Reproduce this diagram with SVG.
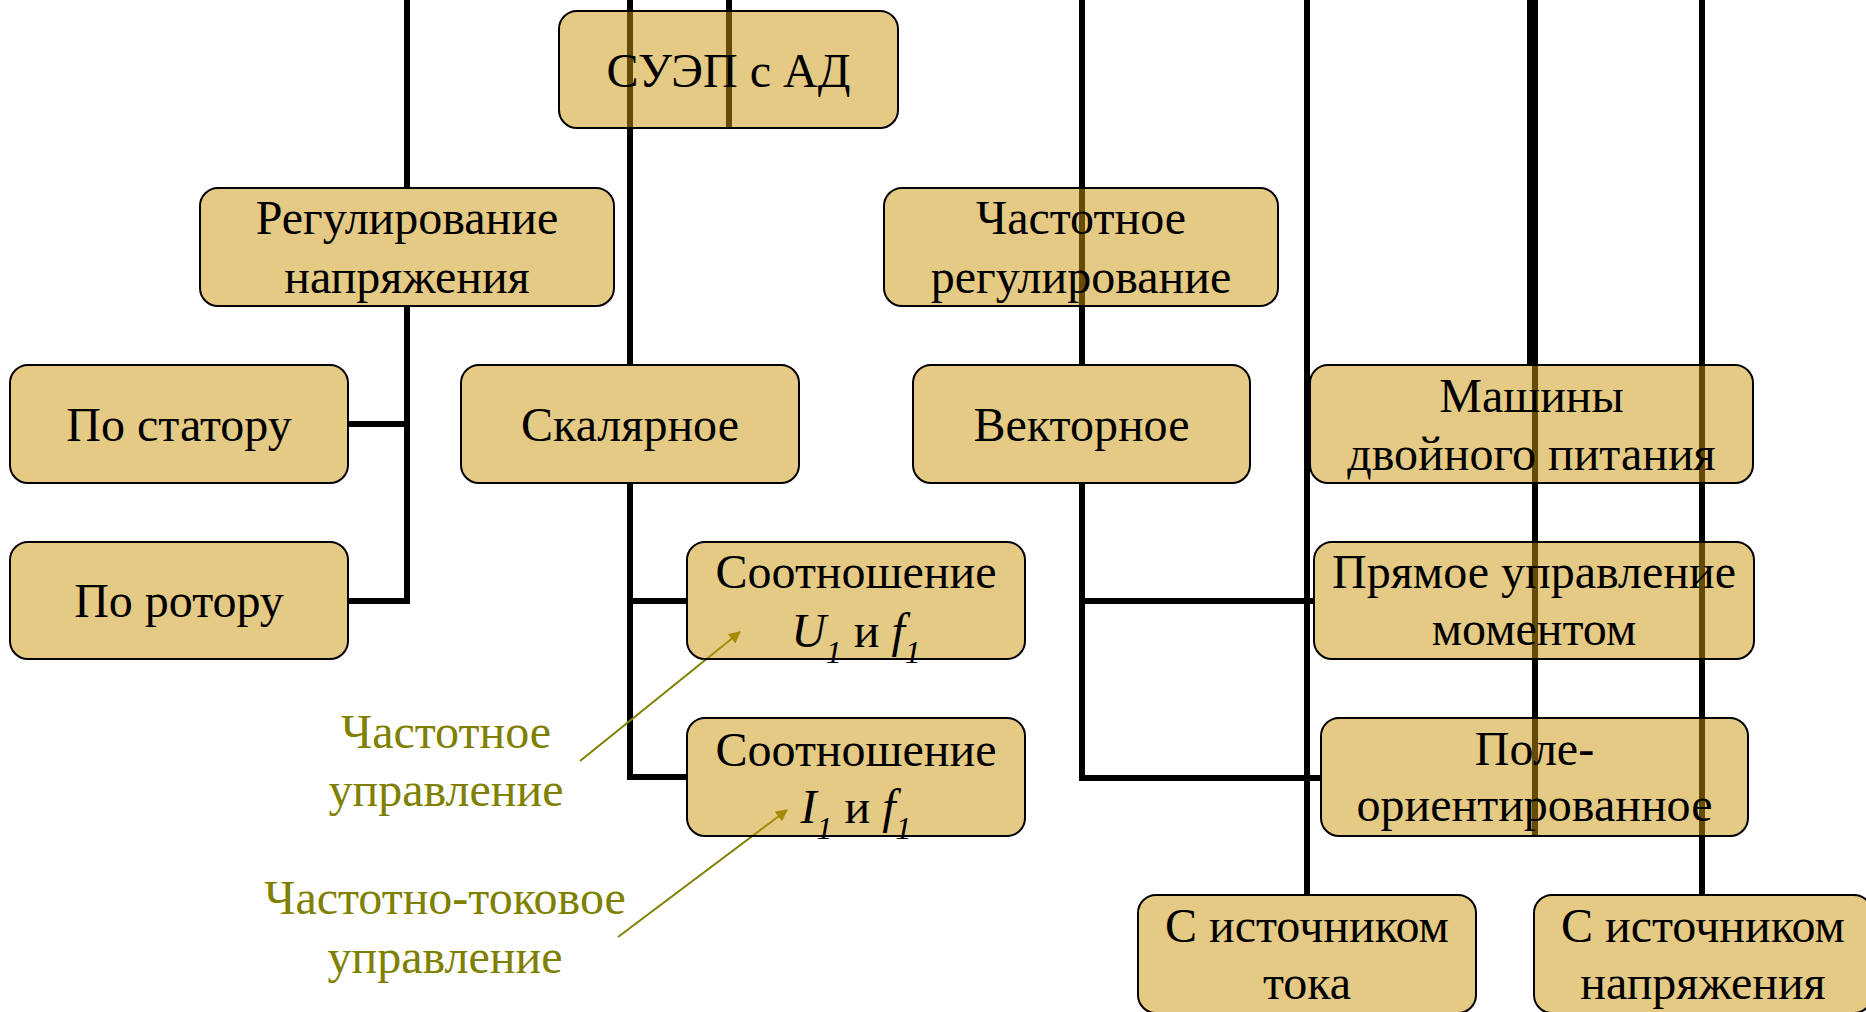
<svg xmlns="http://www.w3.org/2000/svg" width="1866" height="1012" viewBox="0 0 1866 1012">
<defs>
<style>
.box{fill:rgb(201,150,10);fill-opacity:0.5;stroke:#000;stroke-width:2}
.ln{fill:none;stroke:#000;stroke-width:6;stroke-linejoin:miter}
.t{font-family:"Liberation Serif","Times New Roman",serif;font-size:48px;fill:#000;text-anchor:middle}
.a{font-family:"Liberation Serif","Times New Roman",serif;font-size:48px;fill:#808000;text-anchor:middle}
.i{font-style:italic}
.s{font-style:italic;font-size:32px}
.ar{stroke:#808000;stroke-width:2;fill:none}
</style>
<marker id="ah" viewBox="0 0 10 10" refX="9" refY="5" markerWidth="8" markerHeight="6" markerUnits="strokeWidth" orient="auto">
<path d="M0,0 L10,5 L0,10 z" fill="#808000"/>
</marker>
</defs>
<rect width="1866" height="1012" fill="#fff"/>
<g id="connectors">
<path class="ln" d="M407,0 V188"/>
<path class="ln" d="M407,306 V601 H348"/>
<path class="ln" d="M348,424 H407"/>
<path class="ln" d="M630,0 V365"/>
<path class="ln" d="M630,483 V777 H687"/>
<path class="ln" d="M630,601 H687"/>
<path class="ln" d="M729,0 V128"/>
<path class="ln" d="M1082,0 V365"/>
<path class="ln" d="M1082,483 V778 H1321"/>
<path class="ln" d="M1082,601 H1314"/>
<path class="ln" d="M1307,0 V895"/>
<path class="ln" d="M1535,0 V836"/>
<path class="ln" d="M1530,0 V365"/>
<path class="ln" d="M1702,0 V895"/>
<line class="ar" x1="580" y1="761" x2="740" y2="632" marker-end="url(#ah)"/>
<line class="ar" x1="618" y1="937" x2="787" y2="810" marker-end="url(#ah)"/>
</g>
<g id="n-suep"><rect class="box" x="559" y="11" width="339" height="117" rx="18"/><text class="t" x="728.5" y="87">СУЭП с АД</text></g>
<g id="n-reg-napr"><rect class="box" x="200" y="188" width="414" height="118" rx="18"/><text class="t" x="407" y="234">Регулирование</text><text class="t" x="407" y="293">напряжения</text></g>
<g id="n-chast-reg"><rect class="box" x="884" y="188" width="394" height="118" rx="18"/><text class="t" x="1081" y="234">Частотное</text><text class="t" x="1081" y="293">регулирование</text></g>
<g id="n-stator"><rect class="box" x="10" y="365" width="338" height="118" rx="18"/><text class="t" x="179" y="441">По статору</text></g>
<g id="n-rotor"><rect class="box" x="10" y="542" width="338" height="117" rx="18"/><text class="t" x="179" y="617">По ротору</text></g>
<g id="n-skal"><rect class="box" x="461" y="365" width="338" height="118" rx="18"/><text class="t" x="630" y="441">Скалярное</text></g>
<g id="n-vekt"><rect class="box" x="913" y="365" width="337" height="118" rx="18"/><text class="t" x="1081.5" y="441">Векторное</text></g>
<g id="n-mdp"><rect class="box" x="1310" y="365" width="443" height="118" rx="18"/><text class="t" x="1531.5" y="412">Машины</text><text class="t" x="1531.5" y="470">двойного питания</text></g>
<g id="n-uf"><rect class="box" x="687" y="542" width="338" height="117" rx="18"/><text class="t" x="856" y="588">Соотношение</text><text class="t" x="856" y="647"><tspan class="i">U</tspan><tspan class="s" dy="16">1</tspan><tspan dy="-16"> и </tspan><tspan class="i">f</tspan><tspan class="s" dy="16">1</tspan></text></g>
<g id="n-if"><rect class="box" x="687" y="718" width="338" height="118" rx="18"/><text class="t" x="856" y="766">Соотношение</text><text class="t" x="856" y="823"><tspan class="i">I</tspan><tspan class="s" dy="16">1</tspan><tspan dy="-16"> и </tspan><tspan class="i">f</tspan><tspan class="s" dy="16">1</tspan></text></g>
<g id="n-pum"><rect class="box" x="1314" y="542" width="440" height="117" rx="18"/><text class="t" x="1534" y="588">Прямое управление</text><text class="t" x="1534" y="645">моментом</text></g>
<g id="n-pole"><rect class="box" x="1321" y="718" width="427" height="118" rx="18"/><text class="t" x="1534.5" y="765">Поле-</text><text class="t" x="1534.5" y="821">ориентированное</text></g>
<g id="n-ist-toka"><rect class="box" x="1138" y="895" width="338" height="118" rx="18"/><text class="t" x="1307" y="942">С источником</text><text class="t" x="1307" y="999">тока</text></g>
<g id="n-ist-napr"><rect class="box" x="1534" y="895" width="338" height="118" rx="18"/><text class="t" x="1703" y="942">С источником</text><text class="t" x="1703" y="999">напряжения</text></g>
<g id="notes">
<text class="a" x="446" y="748">Частотное</text>
<text class="a" x="446" y="806">управление</text>
<text class="a" x="445" y="914">Частотно-токовое</text>
<text class="a" x="445" y="973">управление</text>
</g>
</svg>
